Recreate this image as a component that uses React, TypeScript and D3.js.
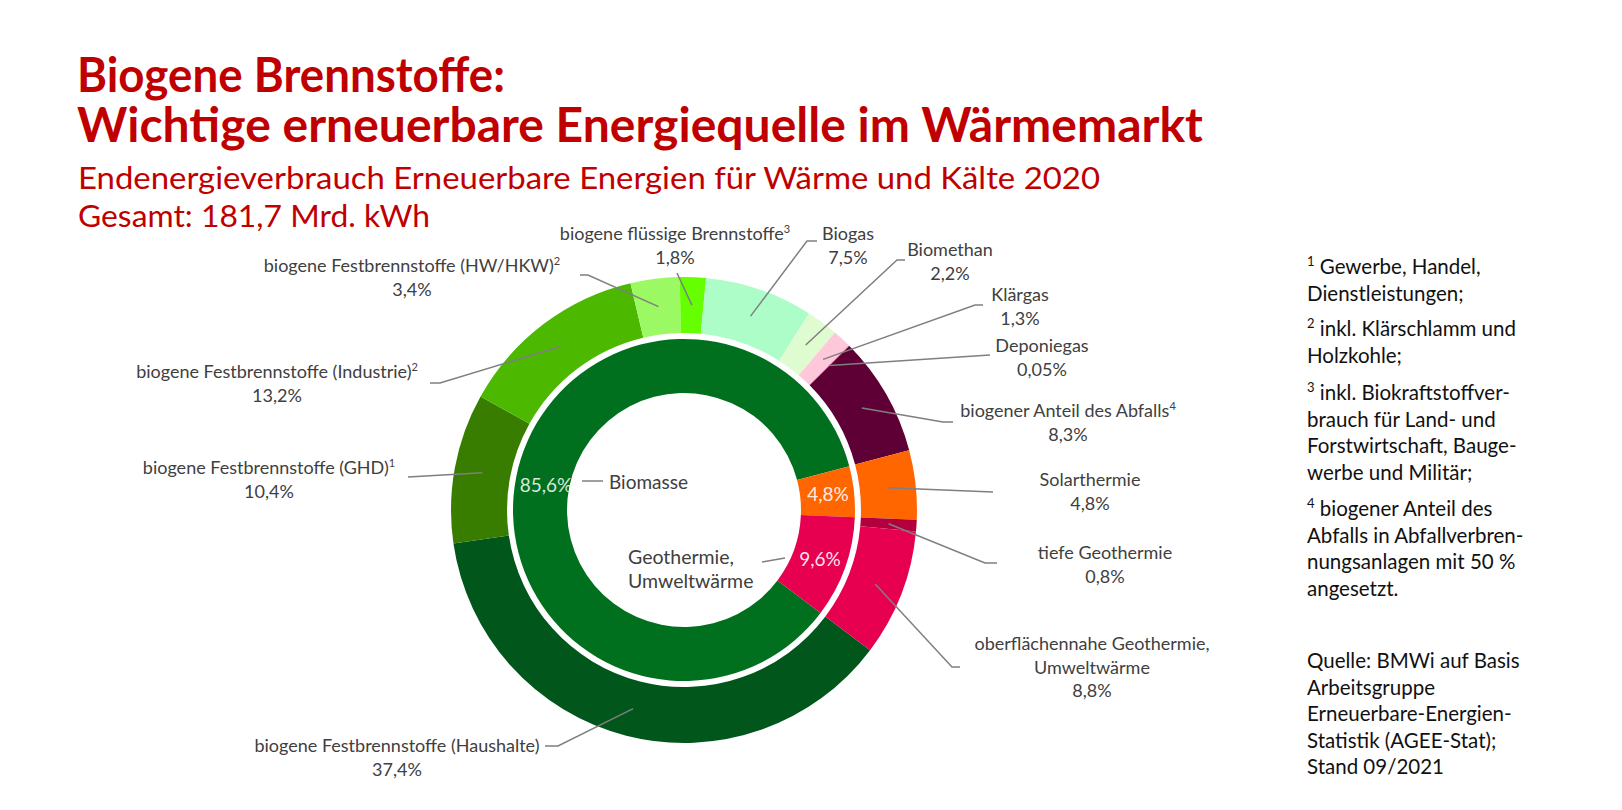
import React from 'react';
import * as d3 from 'd3';

// ---------- data ----------
const titleLines = ['Biogene Brennstoffe:', 'Wichtige erneuerbare Energiequelle im Wärmemarkt'];
const subtitleLines = ['Endenergieverbrauch Erneuerbare Energien für Wärme und Kälte 2020', 'Gesamt: 181,7 Mrd. kWh'];

const outerNames = [
  'biogene Festbrennstoffe (Haushalte)',
  'biogene Festbrennstoffe (GHD)',
  'biogene Festbrennstoffe (Industrie)',
  'biogene Festbrennstoffe (HW/HKW)',
  'biogene flüssige Brennstoffe',
  'Biogas',
  'Biomethan',
  'Klärgas',
  'Deponiegas',
  'biogener Anteil des Abfalls',
  'Solarthermie',
  'tiefe Geothermie',
  'oberflächennahe Geothermie,\nUmweltwärme',
];
const outerSup = ['', '1', '2', '2', '3', '', '', '', '', '4', '', '', ''];
const outerValues = [37.4, 10.4, 13.2, 3.4, 1.8, 7.5, 2.2, 1.3, 0.05, 8.3, 4.8, 0.8, 8.8];

const innerNames = ['Biomasse', 'Solarthermie', 'Geothermie,\nUmweltwärme'];
const innerValues = [85.6, 4.8, 9.6];

const footnotes = [
  ['1', 'Gewerbe, Handel,', 'Dienstleistungen;'],
  ['2', 'inkl. Klärschlamm und', 'Holzkohle;'],
  ['3', 'inkl. Biokraftstoffver-', 'brauch für Land- und', 'Forstwirtschaft, Bauge-', 'werbe und Militär;'],
  ['4', 'biogener Anteil des', 'Abfalls in Abfallverbren-', 'nungsanlagen mit 50 %', 'angesetzt.'],
];
const sourceLines = ['Quelle: BMWi auf Basis', 'Arbeitsgruppe', 'Erneuerbare-Energien-', 'Statistik (AGEE-Stat);', 'Stand 09/2021'];

// ---------- styles / layout ----------
const outerColors = ['#00561B', '#387C00', '#4CB800', '#9BF964', '#66FF00', '#ADFDC8', '#DEFCD0', '#FFC8DA', '#E05080', '#5E0036', '#FF6600', '#B3003C', '#E6004F'];
const innerColors = ['#00701F', '#FF6600', '#E6004F'];

// label center x, first-line center y
const outerLabelPos = [
  [397, 746], [269, 468], [277, 372], [412, 266], [675, 234], [848, 234], [950, 250],
  [1020, 295], [1042, 346], [1068, 411], [1090, 480], [1105, 553], [1092, 644],
];
// leader start x, y, elbow dx
const outerLeader = [
  [545, 746, 13], [408, 477, 0], [430, 383, 10], [580, 275, 8], [677, 273, 0], [817, 241, -10], [905, 260, -8],
  [983, 305, -8], [990, 355, 0], [953, 422, -10], [993, 492, 0], [997, 563, -12], [960, 667, -8],
];

const fmt = (v: number) => String(v).replace('.', ',') + '%';

export default function App() {
  const cx = 684, cy = 510;
  const start = (127 * Math.PI) / 180;
  const pie = d3.pie<number>().sort(null).value((d) => d).startAngle(start).endAngle(start + 2 * Math.PI);
  const outerArc = d3.arc<d3.PieArcDatum<number>>().innerRadius(177).outerRadius(233);
  const innerArc = d3.arc<d3.PieArcDatum<number>>().innerRadius(117).outerRadius(171);
  const outerPie = pie(outerValues);
  const innerPie = pie(innerValues);

  const labelFont = 'Lato, "Open Sans", sans-serif';
  const lblSize = 18;
  const lineH = 23.5;
  const grey = '#404040';
  const lineCol = '#7f7f7f';

  return (
    <svg width={1622} height={810} style={{ position: 'absolute', left: 0, top: 0, background: '#fff' }}>
      {/* titles */}
      <g fontFamily={labelFont} fill="#C00000">
        <text x={77} y={92} fontSize={47} fontWeight="bold" textLength={428} lengthAdjust="spacingAndGlyphs">{titleLines[0]}</text>
        <text x={77} y={142} fontSize={47} fontWeight="bold" textLength={1126} lengthAdjust="spacingAndGlyphs">{titleLines[1]}</text>
        <text x={78} y={189} fontSize={31} textLength={1022} lengthAdjust="spacingAndGlyphs">{subtitleLines[0]}</text>
        <text x={78} y={227} fontSize={31} textLength={352} lengthAdjust="spacingAndGlyphs">{subtitleLines[1]}</text>
      </g>

      {/* rings */}
      <g transform={`translate(${cx},${cy})`}>
        {outerPie.map((d, i) => (
          <path key={'o' + i} d={outerArc(d) || ''} fill={outerColors[i]} />
        ))}
        {innerPie.map((d, i) => (
          <path key={'i' + i} d={innerArc(d) || ''} fill={innerColors[i]} />
        ))}
      </g>

      {/* outer leaders */}
      <g stroke={lineCol} strokeWidth={1.5} fill="none">
        {outerPie.map((d, i) => {
          const [c0, c1] = outerArc.centroid(d);
          const [sx, sy, dx] = outerLeader[i];
          return (
            <polyline key={'l' + i} points={`${sx},${sy} ${sx + dx},${sy} ${cx + c0},${cy + c1}`} />
          );
        })}
        {/* inner leaders */}
        <line x1={582} y1={481} x2={603} y2={481} />
        <line x1={762} y1={562} x2={785} y2={558} />
      </g>

      {/* outer labels */}
      <g fontFamily={labelFont} fontSize={lblSize} fill={grey} textAnchor="middle">
        {outerNames.map((n, i) => {
          const lines = n.split('\n');
          const [x, y] = outerLabelPos[i];
          return (
            <text key={'t' + i} x={x} y={y + 6}>
              {lines.map((ln, j) => (
                <tspan key={j} x={x} y={y + 6 + j * lineH}>
                  {ln}
                  {j === lines.length - 1 && outerSup[i] ? (
                    <tspan fontSize={11} dy={-7}>{outerSup[i]}</tspan>
                  ) : null}
                </tspan>
              ))}
              <tspan x={x} y={y + 6 + lines.length * lineH}>{fmt(outerValues[i])}</tspan>
            </text>
          );
        })}
      </g>

      {/* inner labels */}
      <g fontFamily={labelFont} fontSize={19}>
        <text x={546} y={492} textAnchor="middle" fill="#ffffff" fillOpacity={0.85}>{fmt(innerValues[0])}</text>
        <text x={609} y={489} fill={grey}>{innerNames[0]}</text>
        <text x={828} y={501} textAnchor="middle" fill="#ffffff" fillOpacity={0.9}>{fmt(innerValues[1])}</text>
        <text x={820} y={566} textAnchor="middle" fill="#ffffff" fillOpacity={0.9}>{fmt(innerValues[2])}</text>
        {innerNames[2].split('\n').map((ln, j) => (
          <text key={'g' + j} x={628} y={564 + j * 24} fill={grey} fontSize={19.5}>{ln}</text>
        ))}
      </g>

      {/* footnotes */}
      <g fontFamily={labelFont} fontSize={20.5} fill="#111">
        {(() => {
          const starts = [274, 336, 400, 516];
          return footnotes.map((fn, k) => (
            <text key={'f' + k} x={1307} y={starts[k]}>
              {fn.slice(1).map((ln, j) => (
                <tspan key={j} x={1307} y={starts[k] + j * 26.5}>
                  {j === 0 ? (
                    <>
                      <tspan fontSize={13} dy={-8}>{fn[0]}</tspan>
                      <tspan dy={8}>{' ' + ln}</tspan>
                    </>
                  ) : (
                    ln
                  )}
                </tspan>
              ))}
            </text>
          ));
        })()}
        {sourceLines.map((ln, j) => (
          <text key={'s' + j} x={1307} y={668 + j * 26.5}>{ln}</text>
        ))}
      </g>
    </svg>
  );
}
